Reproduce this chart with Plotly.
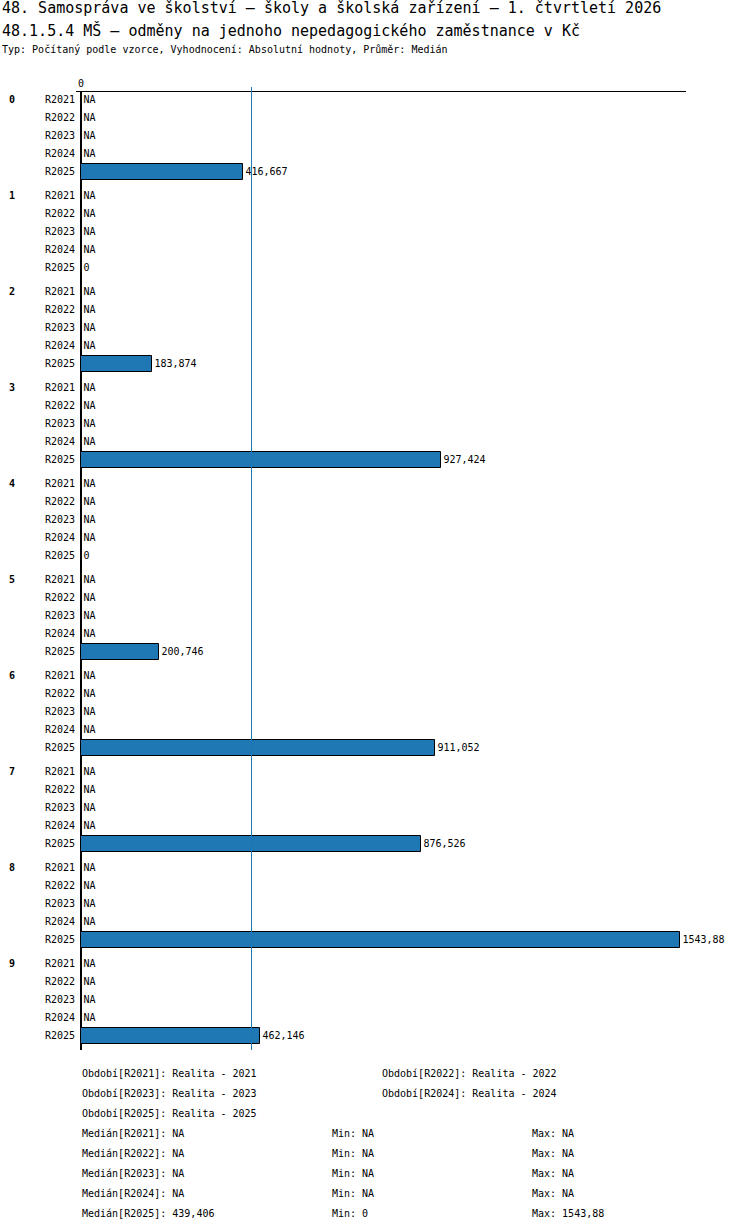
import numpy as np
import plotly.graph_objects as go

# data
groups = ["0", "1", "2", "3", "4", "5", "6", "7", "8", "9"]
periods = ["R2021", "R2022", "R2023", "R2024", "R2025"]
period_names = ["Realita - 2021", "Realita - 2022", "Realita - 2023",
                "Realita - 2024", "Realita - 2025"]
r2021 = [None] * 10
r2022 = [None] * 10
r2023 = [None] * 10
r2024 = [None] * 10
r2025 = [416.667, 0, 183.874, 927.424, 0, 200.746, 911.052, 876.526, 1543.88, 462.146]
medians = [None, None, None, None, 439.406]
mins = [None, None, None, None, 0]
maxs = [None, None, None, None, 1543.88]

series = [r2021, r2022, r2023, r2024, r2025]

W, H = 750, 1232
L, R, T, B = 76, 64, 92, 182
FONT = "DejaVu Sans Mono"
BLUE = "#1f77b4"
GAP = 1 / 3  # extra space between groups, in rows


def fmt(v):
    if v is None:
        return "NA"
    return f"{v:.6g}".replace(".", ",")


def py(pix):
    # pixel from top -> paper y
    return (H - B - pix) / (H - T - B)


def px(pix):
    return (pix - L) / (W - L - R)


ypos, ylab, xval, xtxt = [], [], [], []
for g in range(len(groups)):
    for r, s in enumerate(series):
        ypos.append(g * (len(periods) + GAP) + r)
        ylab.append(periods[r])
        xval.append(s[g])
        xtxt.append(fmt(s[g]))

fig = go.Figure()
fig.add_trace(go.Bar(
    x=[v if v is not None else 0 for v in xval], y=ypos, orientation="h",
    width=16 / 18, marker=dict(color=BLUE, line=dict(color="black", width=1)),
    text=xtxt, textposition="outside", textangle=0, constraintext="none",
    cliponaxis=False, textfont=dict(family=FONT, size=10, color="black"),
    hoverinfo="skip", showlegend=False))

med = medians[-1]
fig.add_shape(type="line", x0=med, x1=med, xref="x", y0=0, y1=py(87),
              yref="paper", line=dict(color=BLUE, width=1))

ymax = ypos[-1]
fig.update_xaxes(range=[-12.9, 1559], side="top", tickvals=[0], ticktext=["0"],
                 showgrid=False, showline=True, linecolor="black", linewidth=1,
                 zeroline=True, zerolinecolor="black", zerolinewidth=2,
                 ticks="", tickfont=dict(family=FONT, size=10, color="black"))
fig.update_yaxes(range=[ymax + 0.78, -0.444], tickvals=ypos, ticktext=ylab,
                 showgrid=False, zeroline=False, showline=False, ticks="",
                 tickfont=dict(family=FONT, size=10, color="black"))

ann = []
ann.append(dict(text="48. Samospráva ve školství – školy a školská zařízení – 1. čtvrtletí 2026",
                x=0, y=8, font=dict(size=15)))
ann.append(dict(text="48.1.5.4 MŠ – odměny na jednoho nepedagogického zaměstnance v Kč",
                x=0, y=30, font=dict(size=15)))
ann.append(dict(text="Typ: Počítaný podle vzorce, Vyhodnocení: Absolutní hodnoty, Průměr: Medián",
                x=0, y=50, font=dict(size=10)))
for a in ann:
    a.update(xref="paper", yref="paper", x=px(a["x"]), y=py(a["y"]),
             xanchor="left", yanchor="middle", showarrow=False)
    a["font"].update(family=FONT, color="black")

for g, name in enumerate(groups):
    ann.append(dict(text="<b>" + name + "</b>", xref="paper", yref="y",
                    x=px(12), y=g * (len(periods) + GAP), xanchor="center",
                    yanchor="middle", showarrow=False,
                    font=dict(family=FONT, size=10, color="black")))

foot = []
cols = [80, 380]
for i, (p, n) in enumerate(zip(periods, period_names)):
    foot.append((cols[i % 2], 1073 + 20 * (i // 2), f"Období[{p}]: {n}"))
for i, p in enumerate(periods):
    yy = 1133 + 20 * i
    foot.append((80, yy, f"Medián[{p}]: {fmt(medians[i])}"))
    foot.append((330, yy, f"Min: {fmt(mins[i])}"))
    foot.append((530, yy, f"Max: {fmt(maxs[i])}"))
for x0, y0, t in foot:
    ann.append(dict(text=t, xref="paper", yref="paper", x=px(x0), y=py(y0),
                    xanchor="left", yanchor="middle", showarrow=False,
                    font=dict(family=FONT, size=10, color="black")))

fig.update_layout(width=W, height=H, margin=dict(l=L, r=R, t=T, b=B, autoexpand=False),
                  paper_bgcolor="white", plot_bgcolor="white", annotations=ann,
                  bargap=0)

# default page margin would push the chart 8px right/down
fig.write_html("out.html", config={"displayModeBar": False},
               post_script="document.body.style.margin='0';")
